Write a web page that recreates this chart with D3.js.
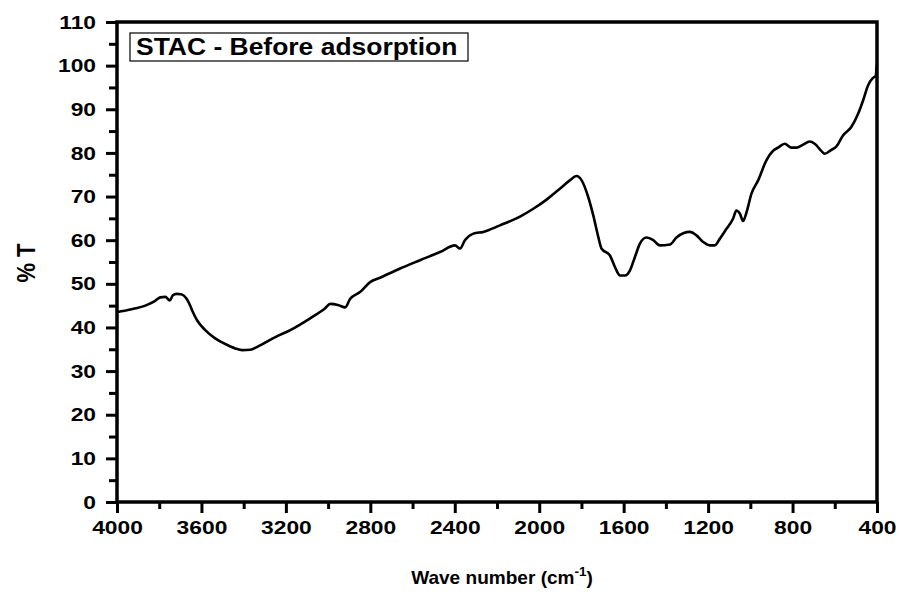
<!DOCTYPE html>
<html>
<head>
<meta charset="utf-8">
<script src="https://cdn.jsdelivr.net/npm/d3@7"></script>
<style>
  body { margin: 0; background: #fff; }
  text { font-family: "Liberation Sans", Arial, sans-serif; font-weight: bold; fill: #000; }
</style>
</head>
<body>
<div id="chart"></div>
<script>
// FTIR spectrum (wave number in cm-1, %T)
const waveNumber = [4000, 3937, 3866, 3819, 3795, 3771, 3750, 3735, 3719, 3696, 3672, 3658, 3644, 3620,
  3582, 3535, 3487, 3440, 3407, 3369, 3322, 3250, 3179, 3085, 3014, 2990, 2950, 2919, 2896, 2849,
  2801, 2754, 2659, 2565, 2470, 2399, 2375, 2352, 2312, 2265, 2186, 2091, 2028, 1965, 1902, 1855,
  1823, 1799, 1768, 1744, 1720, 1705, 1665, 1641, 1617, 1594, 1570, 1547, 1523, 1492, 1460, 1428,
  1381, 1350, 1286, 1255, 1224, 1192, 1168, 1145, 1113, 1082, 1066, 1050, 1034, 1018, 995, 963,
  924, 892, 869, 837, 805, 782, 750, 719, 695, 663, 648, 616, 592, 561, 521, 490, 466, 443, 419,
  406, 403, 400];
const transmittance = [43.5, 44.1, 45.0, 46.1, 46.9, 47.0, 46.2, 47.4, 47.7, 47.6, 46.7, 45.5, 43.9, 41.6,
  39.4, 37.5, 36.2, 35.2, 34.8, 34.9, 35.9, 37.8, 39.4, 42.1, 44.4, 45.4, 45.1, 44.6, 46.5, 48.1,
  50.4, 51.4, 53.5, 55.4, 57.3, 58.8, 58.1, 60.0, 61.5, 61.9, 63.4, 65.4, 67.2, 69.3, 71.8, 73.7,
  74.7, 73.7, 69.9, 65.7, 60.7, 58.1, 56.5, 53.8, 51.9, 51.9, 53.1, 56.1, 59.2, 60.6, 60.0, 58.8,
  59.0, 60.6, 61.9, 61.1, 59.6, 58.8, 58.8, 60.3, 62.6, 64.9, 66.8, 66.1, 64.4, 66.4, 70.6, 73.7,
  78.3, 80.5, 81.2, 82.1, 81.2, 81.2, 81.9, 82.6, 82.1, 80.4, 79.8, 80.7, 81.5, 84.0, 86.0, 88.9,
  92.0, 95.4, 97.2, 97.6, 99.0, 100.5];

const xMajor = [4000, 3600, 3200, 2800, 2400, 2000, 1600, 1200, 800, 400];
const xMinor = [3800, 3400, 3000, 2600, 2200, 1800, 1400, 1000, 600];
const yMajor = [0, 10, 20, 30, 40, 50, 60, 70, 80, 90, 100, 110];
const yMinor = [5, 15, 25, 35, 45, 55, 65, 75, 85, 95, 105];

const data = waveNumber.map((w, i) => ({ w: w, t: transmittance[i] }));

const margin = { top: 22, right: 26, bottom: 90, left: 117 },
      width = 903 - margin.left - margin.right,
      height = 592 - margin.top - margin.bottom;

const svg = d3.select("#chart")
    .append("svg")
    .attr("width", 903)
    .attr("height", 592)
  .append("g")
    .attr("transform", `translate(${margin.left},${margin.top})`);

const x = d3.scaleLinear().domain([4000, 400]).range([0, width]);
const y = d3.scaleLinear().domain([0, 110]).range([height, 0]);

// stretch text horizontally (the original picture is a bit wide)
function stretch(sel, k) {
  sel.each(function() {
    const len = this.getComputedTextLength();
    d3.select(this).attr("textLength", len * k).attr("lengthAdjust", "spacingAndGlyphs");
  });
}

// minor ticks
svg.append("g")
    .attr("transform", `translate(0,${height})`)
    .call(d3.axisBottom(x).tickValues(xMinor).tickSize(7).tickFormat(""))
    .call(g => g.select(".domain").remove());
svg.append("g")
    .call(d3.axisLeft(y).tickValues(yMinor).tickSize(8).tickFormat(""))
    .call(g => g.select(".domain").remove());

// major ticks + labels
const xAxis = svg.append("g")
    .attr("transform", `translate(0,${height})`)
    .call(d3.axisBottom(x).tickValues(xMajor).tickSize(11).tickPadding(8).tickFormat(d3.format("d")))
    .call(g => g.select(".domain").remove());
const yAxis = svg.append("g")
    .call(d3.axisLeft(y).tickValues(yMajor).tickSize(11).tickPadding(10))
    .call(g => g.select(".domain").remove());

svg.selectAll(".tick line").attr("stroke", "#000").attr("stroke-width", 3);
svg.selectAll(".tick text").style("font-size", "19px").style("font-family", null);
stretch(xAxis.selectAll(".tick text"), 1.2);
stretch(yAxis.selectAll(".tick text"), 1.2);

// frame
svg.append("rect")
    .attr("width", width)
    .attr("height", height)
    .attr("fill", "none")
    .attr("stroke", "#000")
    .attr("stroke-width", 3.5);

// spectrum
svg.append("path")
    .datum(data)
    .attr("fill", "none")
    .attr("stroke", "#000")
    .attr("stroke-width", 2.6)
    .attr("stroke-linejoin", "round")
    .attr("d", d3.line()
      .x(d => x(d.w))
      .y(d => y(d.t))
      .curve(d3.curveMonotoneX));

// title box
svg.append("rect")
    .attr("x", 13)
    .attr("y", 11)
    .attr("width", 338)
    .attr("height", 28)
    .attr("fill", "#fff")
    .attr("stroke", "#000")
    .attr("stroke-width", 1.2);
const title = svg.append("text")
    .attr("x", 19)
    .attr("y", 33)
    .style("font-size", "23px")
    .text("STAC - Before adsorption");
stretch(title, 1.15);

// axis labels
svg.append("text")
    .attr("transform", `translate(${26 - margin.left},${263 - margin.top}) rotate(-90) scale(1,1.2)`)
    .attr("text-anchor", "middle")
    .attr("dy", "0.35em")
    .style("font-size", "22px")
    .text("% T");

const xl = svg.append("text")
    .attr("x", 502 - margin.left)
    .attr("y", 584 - margin.top)
    .attr("text-anchor", "middle")
    .style("font-size", "18.5px");
xl.append("tspan").text("Wave number (cm");
xl.append("tspan").attr("dy", "-8").style("font-size", "13px").text("-1");
xl.append("tspan").attr("dy", "8").text(")");
stretch(xl, 1.03);
</script>
</body>
</html>
